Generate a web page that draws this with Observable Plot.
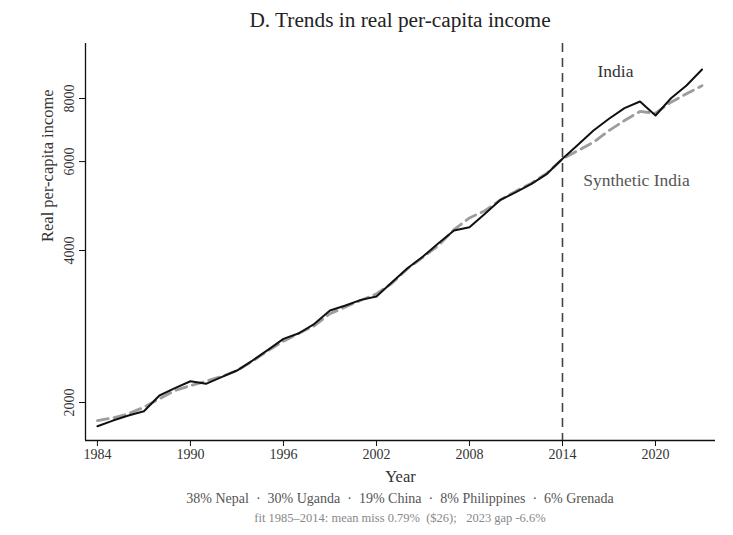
<!DOCTYPE html>
<html>
<head>
<meta charset="utf-8">
<script src="https://cdn.jsdelivr.net/npm/d3@7"></script>
<script src="https://cdn.jsdelivr.net/npm/@observablehq/plot@0.6"></script>
<style>
  html, body { margin: 0; padding: 0; background: #fff; }
  #wrap { position: relative; width: 733px; height: 535px; background: #fff; font-family: 'Liberation Serif', 'Times New Roman', serif; }
  .ctr { position: absolute; left: 0; width: 800px; text-align: center; white-space: pre; }
</style>
</head>
<body>
<div id="wrap">
  <div class="ctr" id="title" style="top:8px;font-size:21.3px;line-height:24px;color:#222">D. Trends in real per-capita income</div>
  <div id="chart" style="position:absolute;left:0;top:35px"></div>
  <div class="ctr" id="cap1" style="top:490px;font-size:14px;line-height:18px;color:#555"></div>
  <div class="ctr" id="cap2" style="top:511px;font-size:12.5px;line-height:14px;color:#888"></div>
</div>
<script>
const years = [1984,1985,1986,1987,1988,1989,1990,1991,1992,1993,1994,1995,1996,1997,1998,1999,2000,2001,2002,2003,2004,2005,2006,2007,2008,2009,2010,2011,2012,2013,2014,2015,2016,2017,2018,2019,2020,2021,2022,2023];
const india = [1795,1842,1885,1922,2065,2135,2204,2178,2245,2314,2422,2543,2674,2743,2864,3042,3112,3194,3243,3462,3690,3892,4136,4382,4448,4729,5040,5218,5422,5675,6076,6477,6913,7293,7654,7891,7403,8010,8488,9131];
const synthetic = [1842,1865,1900,1958,2034,2112,2161,2204,2252,2314,2414,2532,2646,2743,2840,2999,3092,3189,3282,3445,3680,3880,4094,4400,4640,4795,5040,5244,5436,5691,6076,6310,6554,6913,7236,7540,7480,7866,8175,8480];
const xTicks = [1984,1990,1996,2002,2008,2014,2020];
const yTicks = [2000,4000,6000,8000];
const treatmentYear = [2014];
const donors = ["Nepal","Uganda","China","Philippines","Grenada"];
const weights = [38,30,19,8,6];
const fitNote = "fit 1985\u20132014: mean miss 0.79%  ($26);   2023 gap -6.6%";

const indiaData = years.map((y, i) => ({year: y, value: india[i]}));
const synthData = years.map((y, i) => ({year: y, value: synthetic[i]}));

const xDomain = [1983.23, 2023.87];
const yDomain = [1682, 10280];
const font = "'Liberation Serif', 'Times New Roman', serif";

const chart = Plot.plot({
  width: 733,
  height: 455,
  marginTop: 8,
  marginBottom: 50,
  marginLeft: 85,
  marginRight: 18,
  style: {fontFamily: font, fontSize: "14px", color: "#333", background: "transparent", overflow: "visible"},
  x: {domain: xDomain, axis: null},
  y: {type: "log", domain: yDomain, axis: null},
  marks: [
    Plot.ruleX([xDomain[0]], {stroke: "#111", strokeWidth: 1.3}),
    Plot.ruleY([yDomain[0]], {stroke: "#111", strokeWidth: 1.3}),
    Plot.axisX({ticks: xTicks, tickSize: 6, tickPadding: 3, tickFormat: d => String(d), fontSize: 14, label: null, stroke: "#111", fill: "#333"}),
    Plot.axisY({ticks: yTicks, tickSize: 6, tickRotate: -90, tickPadding: 6, tickFormat: d => String(d), fontSize: 14, label: null, stroke: "#111", fill: "#333"}),
    Plot.ruleX(treatmentYear, {stroke: "#444", strokeWidth: 1.6, strokeDasharray: "9,6"}),
    Plot.line(synthData, {x: "year", y: "value", stroke: "#9d9d9d", strokeWidth: 2.8, strokeDasharray: "11,6"}),
    Plot.line(indiaData, {x: "year", y: "value", stroke: "#111", strokeWidth: 2}),
    Plot.text(["India"], {x: 2017.42, y: 9050, text: d => d, fill: "#333", fontSize: 17.5}),
    Plot.text(["Synthetic India"], {x: 2018.77, y: 5500, text: d => d, fill: "#555", fontSize: 17.5}),
    Plot.text(["Year"], {frameAnchor: "bottom", dy: 36, text: d => d, fill: "#333", fontSize: 16.5, lineAnchor: "middle"}),
    Plot.text(["Real per-capita income"], {frameAnchor: "left", dx: -38, rotate: -90, text: d => d, fill: "#333", fontSize: 16.5, lineAnchor: "middle"})
  ]
});
document.getElementById("chart").appendChild(chart);
document.getElementById("cap1").textContent = donors.map((d, i) => `${weights[i]}% ${d}`).join("  \u00b7  ");
document.getElementById("cap2").textContent = fitNote;
</script>
</body>
</html>
